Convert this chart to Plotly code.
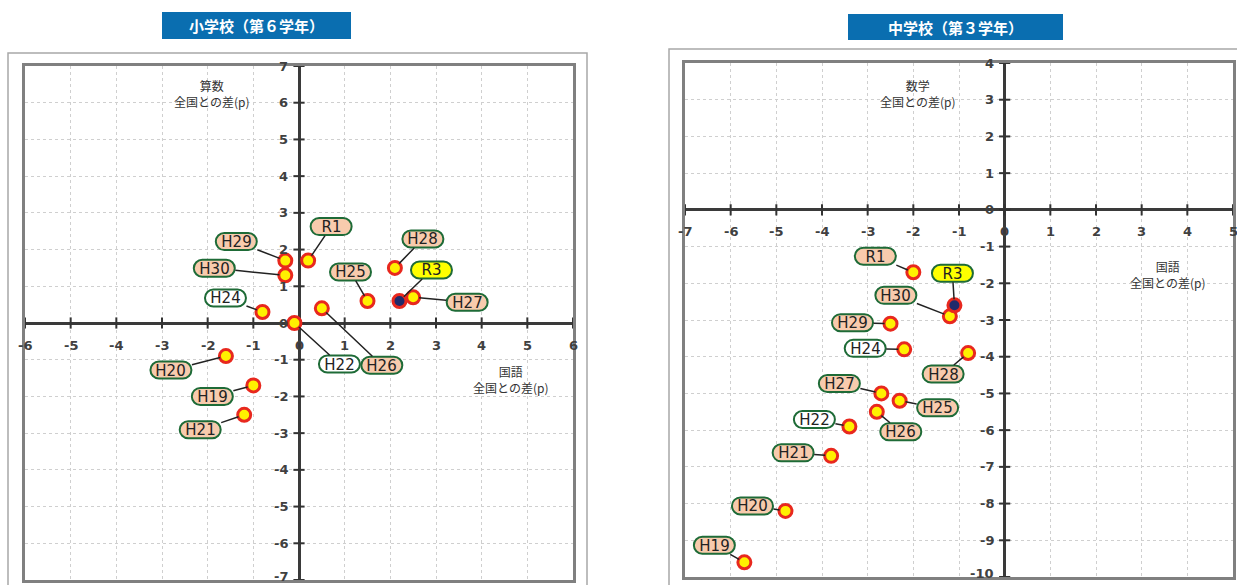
import plotly.graph_objects as go

# ---------------- data ----------------
labels = ["H19", "H20", "H21", "H22", "H24", "H25", "H26", "H27", "H28", "H29", "H30", "R1", "R3"]

# 小学校（第６学年）: 国語 (x) / 算数 (y) 全国との差
elem_kokugo = [-1.0, -1.6, -1.2, -0.1, -0.8, 1.5, 0.5, 2.5, 2.1, -0.3, -0.3, 0.2, 2.2]
elem_sansu = [-1.7, -0.9, -2.5, 0.0, 0.3, 0.6, 0.4, 0.7, 1.5, 1.7, 1.3, 1.7, 0.6]

# 中学校（第３学年）: 国語 (x) / 数学 (y) 全国との差
jhs_kokugo = [-5.7, -4.8, -3.8, -3.4, -2.2, -2.3, -2.8, -2.7, -0.8, -2.5, -1.2, -2.0, -1.1]
jhs_sugaku = [-9.6, -8.2, -6.7, -5.9, -3.8, -5.2, -5.5, -5.0, -3.9, -3.1, -2.9, -1.7, -2.6]

elem_xticks = list(range(-6, 7))
elem_yticks = list(range(-7, 8))
jhs_xticks = list(range(-7, 6))
jhs_yticks = list(range(-10, 5))

# ---------------- styling ----------------
W, H = 1237, 585
label_fill = {"H22": "#FFFFFF", "H24": "#FFFFFF", "R3": "#FFFF00"}
default_fill = "#F8CBAD"
pill_line = "#1E6B37"

# label offsets in pixels (dx right, dy down)
elem_off = {"H19": (-41, 11), "H20": (-55, 14), "H21": (-44, 15), "H22": (45, 41),
            "H24": (-37, -14), "H25": (-17, -29), "H26": (60, 57), "H27": (54, 5),
            "H28": (28, -29), "H29": (-49, -19), "H30": (-71, -7), "R1": (23, -34),
            "R3": (32, -31)}
jhs_off = {"H19": (-30, -17), "H20": (-33, -5), "H21": (-38, -3), "H22": (-35, -7),
           "H24": (-39, -1), "H25": (38, 7), "H26": (24, 20), "H27": (-42, -10),
           "H28": (-25, 21), "H29": (-38, -1), "H30": (-54, -21), "R1": (-38, -16),
           "R3": (-2, -32)}

fig = go.Figure()

def pill_path(cx, cy, w=20.5, h=8.5):
    r = h
    k = 0.5523 * r
    a, b = cx - w + r, cx + w - r
    pts = [
        f"M{a},{cy + h}", f"L{b},{cy + h}",
        f"C{b + k},{cy + h} {cx + w},{cy + k} {cx + w},{cy}",
        f"C{cx + w},{cy - k} {b + k},{cy - h} {b},{cy - h}",
        f"L{a},{cy - h}",
        f"C{a - k},{cy - h} {cx - w},{cy - k} {cx - w},{cy}",
        f"C{cx - w},{cy + k} {a - k},{cy + h} {a},{cy + h}", "Z",
    ]
    return " ".join(pts)

def add_chart(xs, ys, offs, xr, yr, xticks, yticks):
    # tick marks on the zero axes
    fig.add_trace(go.Scatter(
        x=xticks, y=[0] * len(xticks), mode="markers", xaxis=xr, yaxis=yr, hoverinfo="skip",
        marker=dict(symbol="line-ns-open", size=8, color="#333333",
                    line=dict(color="#333333", width=2)),
        showlegend=False))
    fig.add_trace(go.Scatter(
        x=[0] * len(yticks), y=yticks, mode="markers", xaxis=xr, yaxis=yr, hoverinfo="skip",
        marker=dict(symbol="line-ew-open", size=8, color="#333333",
                    line=dict(color="#333333", width=2)),
        showlegend=False))
    # points
    fig.add_trace(go.Scatter(
        x=xs, y=ys, mode="markers", xaxis=xr, yaxis=yr, hoverinfo="skip",
        marker=dict(size=13, color=["#1F2A6B" if l == "R3" else "#FFF100" for l in labels],
                    line=dict(color="#E8281E", width=3)),
        showlegend=False))
    xref = xr
    yref = yr
    for t in xticks:
        fig.add_annotation(x=t, y=0, xref=xref, yref=yref, text=str(t), showarrow=False,
                           yshift=-22, font=dict(family="DejaVu Sans", size=13, color="#404040",
                                                 weight="bold"))
    for t in yticks:
        fig.add_annotation(x=0, y=t, xref=xref, yref=yref, text=str(t), showarrow=False,
                           xanchor="right", xshift=-9, yshift=(4 if t == yticks[0] else 0),
                           font=dict(family="DejaVu Sans", size=13, color="#404040", weight="bold"))
    # labels
    for l, x, y in zip(labels, xs, ys):
        dx, dy = offs[l]
        fig.add_shape(type="path", xref=xref, yref=yref, xsizemode="pixel", ysizemode="pixel",
                      xanchor=x, yanchor=y, path=pill_path(dx, -dy),
                      fillcolor=label_fill.get(l, default_fill),
                      line=dict(color=pill_line, width=2), layer="above")
        fig.add_annotation(x=x, y=y, xref=xref, yref=yref, ax=dx, ay=dy, text=l,
                           showarrow=True, arrowhead=0, arrowwidth=1.5, arrowcolor="#222222",
                           standoff=6, width=37, height=13, borderpad=2,
                           font=dict(family="DejaVu Sans", size=15, color="#222222"))

add_chart(elem_kokugo, elem_sansu, elem_off, "x", "y", elem_xticks, elem_yticks)
add_chart(jhs_kokugo, jhs_sugaku, jhs_off, "x2", "y2", jhs_xticks, jhs_yticks)

axis_common = dict(showgrid=True, gridcolor="#CFCFCF", griddash="dot", gridwidth=1,
                   zeroline=True, zerolinecolor="#3A3A3A", zerolinewidth=3,
                   showline=True, mirror=True, linecolor="#808080", linewidth=3,
                   showticklabels=False, ticks="", dtick=1, tick0=0, fixedrange=True)

fig.update_layout(
    width=W, height=H, margin=dict(l=0, r=0, t=0, b=0),
    paper_bgcolor="white", plot_bgcolor="white", showlegend=False,
    xaxis=dict(domain=[25 / W, 573 / W], range=[-6, 6], anchor="y", **axis_common),
    yaxis=dict(domain=[1 - 580 / H, 1 - 66 / H], range=[-7, 7], anchor="x", **axis_common),
    xaxis2=dict(domain=[685 / W, 1233 / W], range=[-7, 5], anchor="y2", **axis_common),
    yaxis2=dict(domain=[1 - 577 / H, 1 - 63 / H], range=[-10, 4], anchor="x2", **axis_common),
)

# outer frames
fig.add_shape(type="rect", xref="paper", yref="paper", x0=8 / W, x1=587 / W,
              y0=-0.05, y1=1 - 53 / H, line=dict(color="#A8A8A8", width=1.5), layer="below")
fig.add_shape(type="rect", xref="paper", yref="paper", x0=669 / W, x1=1.05,
              y0=-0.05, y1=1 - 49 / H, line=dict(color="#A8A8A8", width=1.5), layer="below")

# title boxes
titles = [("小学校（第６学年）", 162, 351, 12, 39), ("中学校（第３学年）", 848, 1063, 14, 40)]
for txt, x0, x1, y0, y1 in titles:
    fig.add_shape(type="rect", xref="paper", yref="paper", x0=x0 / W, x1=x1 / W,
                  y0=1 - y1 / H, y1=1 - y0 / H, fillcolor="#0A6EB0", line=dict(width=0))
    fig.add_annotation(xref="paper", yref="paper", x=(x0 + x1) / 2 / W, y=1 - (y0 + y1) / 2 / H,
                       text=txt, showarrow=False, xanchor="center", yanchor="middle",
                       font=dict(family="Noto Sans CJK JP", size=15, color="white", weight="bold"))

# axis titles
axis_titles = [("算数<br>全国との差(p)", 211, 93.5), ("国語<br>全国との差(p)", 510, 379),
               ("数学<br>全国との差(p)", 917, 93.5), ("国語<br>全国との差(p)", 1167, 274)]
for txt, px, py in axis_titles:
    fig.add_annotation(xref="paper", yref="paper", x=px / W, y=1 - py / H, text=txt,
                       showarrow=False, xanchor="center", yanchor="middle", align="center",
                       font=dict(family="Noto Sans CJK JP", size=12, color="#333333"))

fig.write_html("out.html")
